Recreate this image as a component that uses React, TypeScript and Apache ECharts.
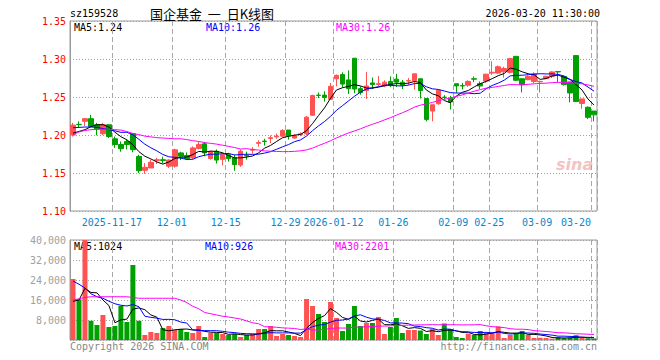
import React, { useEffect, useRef } from "react";
import * as echarts from "echarts";

const dates = [
  "2025-11-06","2025-11-07","2025-11-10","2025-11-11","2025-11-12","2025-11-13","2025-11-14","2025-11-17","2025-11-18","2025-11-19",
  "2025-11-20","2025-11-21","2025-11-24","2025-11-25","2025-11-26","2025-11-27","2025-11-28","2025-12-01","2025-12-02","2025-12-03",
  "2025-12-04","2025-12-05","2025-12-08","2025-12-09","2025-12-10","2025-12-11","2025-12-15","2025-12-16","2025-12-17","2025-12-18",
  "2025-12-19","2025-12-22","2025-12-23","2025-12-24","2025-12-25","2025-12-26","2025-12-29","2025-12-30","2025-12-31","2026-01-05",
  "2026-01-06","2026-01-07","2026-01-08","2026-01-09","2026-01-12","2026-01-13","2026-01-14","2026-01-15","2026-01-16","2026-01-19",
  "2026-01-20","2026-01-21","2026-01-22","2026-01-23","2026-01-26","2026-01-27","2026-01-28","2026-01-29","2026-01-30","2026-02-02",
  "2026-02-03","2026-02-04","2026-02-05","2026-02-06","2026-02-09","2026-02-10","2026-02-11","2026-02-12","2026-02-13","2026-02-24",
  "2026-02-25","2026-02-26","2026-02-27","2026-03-02","2026-03-03","2026-03-04","2026-03-05","2026-03-06","2026-03-09","2026-03-10",
  "2026-03-11","2026-03-12","2026-03-13","2026-03-16","2026-03-17","2026-03-18","2026-03-19","2026-03-20"
];

const opens = [
  1.200,1.2140,1.218,1.2215,1.2135,1.2017,1.2135,1.195,1.1875,1.1915,
  1.2017,1.1718,1.1535,1.1566,1.1665,1.1675,1.159,1.159,1.1764,1.173,
  1.170,1.1823,1.1885,1.169,1.1785,1.168,1.174,1.170,1.1605,1.1735,
  1.180,1.189,1.192,1.1955,1.1975,1.1985,1.2065,1.196,1.2005,1.2015,
  1.226,1.2525,1.2525,1.247,1.274,1.2795,1.2725,1.301,1.261,1.2585,
  1.2685,1.2665,1.2645,1.2705,1.2735,1.2695,1.271,1.2715,1.274,1.248,
  1.2315,1.2412,1.2497,1.2485,1.2675,1.265,1.2655,1.274,1.2675,1.271,
  1.2815,1.2815,1.2832,1.2825,1.3035,1.274,1.2728,1.2705,1.270,1.2742,
  1.2772,1.2835,1.277,1.2698,1.3045,1.2415,1.2365,1.2315
];
const closes = [
  1.213,1.2136,1.2215,1.2113,1.208,1.2135,1.198,1.1875,1.182,1.1875,
  1.1807,1.153,1.1575,1.164,1.1675,1.1665,1.167,1.1805,1.172,1.169,
  1.183,1.1875,1.1765,1.178,1.167,1.174,1.169,1.161,1.1785,1.1725,
  1.181,1.190,1.1915,1.1965,1.1985,1.206,1.199,1.199,1.2015,1.2235,
  1.252,1.252,1.2495,1.264,1.2785,1.267,1.261,1.2605,1.256,1.2645,
  1.2665,1.2675,1.2695,1.265,1.2695,1.2655,1.2715,1.2805,1.2585,1.2205,
  1.2398,1.2588,1.2495,1.2435,1.2645,1.2645,1.2705,1.2735,1.2645,1.280,
  1.2825,1.2898,1.2875,1.3005,1.272,1.266,1.277,1.2805,1.2705,1.2772,
  1.283,1.283,1.2665,1.2553,1.244,1.2475,1.2233,1.2265
];
const lows = [
  1.198,1.2096,1.212,1.211,1.1995,1.200,1.196,1.183,1.178,1.181,
  1.1772,1.150,1.149,1.1566,1.162,1.163,1.1565,1.157,1.167,1.167,
  1.168,1.181,1.172,1.1675,1.1625,1.160,1.165,1.153,1.158,1.1675,
  1.1755,1.1845,1.186,1.1895,1.195,1.1975,1.194,1.195,1.1985,1.200,
  1.225,1.2485,1.244,1.2465,1.264,1.2625,1.254,1.255,1.253,1.2475,
  1.2605,1.2645,1.263,1.263,1.263,1.2605,1.266,1.2595,1.248,1.218,
  1.218,1.2398,1.2465,1.2335,1.2555,1.260,1.2635,1.2695,1.2605,1.2685,
  1.279,1.2805,1.2755,1.281,1.271,1.256,1.272,1.268,1.256,1.2735,
  1.275,1.2698,1.265,1.243,1.2435,1.2345,1.221,1.218
];
const highs = [
  1.216,1.2179,1.2225,1.2266,1.216,1.216,1.2135,1.198,1.1915,1.194,
  1.2025,1.174,1.163,1.1675,1.170,1.1715,1.168,1.182,1.178,1.177,
  1.185,1.1915,1.191,1.1795,1.181,1.176,1.1765,1.174,1.181,1.178,
  1.184,1.193,1.195,1.1995,1.202,1.2075,1.2065,1.201,1.2035,1.225,
  1.253,1.256,1.2575,1.2685,1.2795,1.2825,1.285,1.301,1.264,1.283,
  1.2755,1.2775,1.272,1.277,1.2805,1.2725,1.275,1.2805,1.274,1.248,
  1.240,1.2605,1.2525,1.2515,1.2675,1.2685,1.272,1.277,1.2705,1.2805,
  1.297,1.2915,1.2898,1.301,1.3035,1.274,1.2785,1.2825,1.2715,1.278,
  1.2838,1.2838,1.277,1.2698,1.3045,1.2477,1.2377,1.2315
];
const volumes = [
  24400,16300,40000,7700,6000,10000,5200,5600,13700,7200,
  30000,7700,2000,3200,2800,4800,5600,4000,4400,3200,
  2800,5600,1200,2800,2800,2400,2000,2400,1200,2000,
  2400,4400,4400,5600,1600,2400,2000,1600,1200,16400,
  13600,10400,7200,15200,8800,3600,6400,13600,5600,6800,
  6800,9200,2400,5200,8800,2800,4000,4000,3800,2400,
  4400,2000,6600,4400,1200,800,2570,2000,3600,2800,
  2800,5400,800,2000,2800,3600,2000,800,900,800,
  540,1100,800,1000,1900,900,700,620
];

// moving-average values before enough closes exist in the window
const ma5Lead = [1.2025, 1.2047, 1.207, 1.211];
const ma10Lead = [1.2095, 1.210, 1.2105, 1.2105, 1.210, 1.2085, 1.207, 1.2055, 1.2035];
const ma30Lead = [
  1.2005,1.204,1.206,1.207,1.2075,1.2075,1.2075,1.207,1.2065,1.2045,
  1.202,1.2005,1.1985,1.1975,1.1965,1.196,1.1955,1.195,1.195,1.194,
  1.1925,1.1915,1.190,1.189,1.188,1.1865,1.185,1.1835,1.1815
];
const vma5Lead = [15500, 16000, 20700, 19000];
const vma10Lead = [23600, 22300, 20800, 18500, 17300, 16700, 15500, 14500, 13900];
const vma30Lead = [
  16000,16500,17000,17300,17300,17300,17300,17300,17300,17300,
  17000,16700,16700,16700,16700,16700,16700,16700,16000,15000,
  13500,12500,11000,10500,10000,9500,9200,8800,8400
];

const tickDates = ["2025-11-17","2025-12-01","2025-12-15","2025-12-29","2026-01-12","2026-01-26","2026-02-09","2026-02-25","2026-03-09","2026-03-20"];
const tickTexts = ["2025-11-17","12-01","12-15","12-29","2026-01-12","01-26","02-09","02-25","03-09","03-20"];

const priceAxis = { min: 1.10, max: 1.35, interval: 0.05 };
const volumeAxis = { min: 0, max: 40000, interval: 8000 };

const UP = "#ff5252";
const DOWN = "#00a000";
const MONO = "DejaVu Sans Mono";

function movingAvg(values: number[], n: number, lead: number[]) {
  return values.map((_, i) => {
    if (i < lead.length) return lead[i];
    let s = 0;
    for (let k = i - n + 1; k <= i; k++) s += values[k];
    return s / n;
  });
}

export default function App() {
  const ref = useRef<HTMLDivElement>(null);
  useEffect(() => {
    if (!ref.current) return;
    const chart = echarts.init(ref.current, undefined, { renderer: "svg" });

    const ma5 = movingAvg(closes, 5, ma5Lead);
    const ma10 = movingAvg(closes, 10, ma10Lead);
    const ma30 = movingAvg(closes, 30, ma30Lead);
    const vma5 = movingAvg(volumes, 5, vma5Lead);
    const vma10 = movingAvg(volumes, 10, vma10Lead);
    const vma30 = movingAvg(volumes, 30, vma30Lead);
    const last = closes.length - 1;

    const tickIdx = new Set(tickDates.map((d) => dates.indexOf(d)));
    const candleData = dates.map((_, i) => [opens[i], closes[i], lows[i], highs[i]]);
    const volData = volumes.map((v, i) => ({
      value: v,
      itemStyle: { color: closes[i] >= opens[i] ? UP : DOWN },
    }));

    const splitV = {
      show: true,
      interval: (idx: number) => tickIdx.has(idx),
      lineStyle: { color: "#a8a8a8", type: [5, 3] as any, width: 1 },
    };
    const splitH = {
      show: true,
      lineStyle: { color: "#a0a0a0", type: [1, 2] as any, width: 1 },
    };
    const labelBase = { fontFamily: MONO, fontSize: 10, color: "#0a86cc" };

    const txt = (x: number, y: number, text: string, fill: string, extra: any = {}) => ({
      type: "text",
      x,
      y,
      style: { text, fill, font: `10px "${MONO}"`, verticalAlign: "middle", ...extra },
      silent: true,
    });

    chart.setOption({
      animation: false,
      backgroundColor: "#ffffff",
      grid: [
        { left: 70, top: 21, width: 527, height: 190, show: true, borderColor: "#9a9a9a", borderWidth: 1, backgroundColor: "transparent" },
        { left: 70, top: 240, width: 527, height: 100, show: true, borderColor: "#9a9a9a", borderWidth: 1, backgroundColor: "transparent" },
      ],
      xAxis: [
        {
          type: "category",
          gridIndex: 0,
          data: dates,
          boundaryGap: true,
          axisLine: { show: false },
          axisTick: { show: false },
          splitLine: splitV,
          axisLabel: {
            ...labelBase,
            margin: 6,
            interval: (idx: number) => tickIdx.has(idx),
            formatter: (val: string) => {
              const k = tickDates.indexOf(val);
              if (k < 0) return "";
              return k === tickDates.length - 1 ? `{e|${tickTexts[k]}}` : `{m|${tickTexts[k]}}`;
            },
            rich: {
              m: { ...labelBase, padding: [0, 6, 0, 0] },
              e: { ...labelBase, padding: [0, 36, 0, 0] },
            },
          },
        },
        {
          type: "category",
          gridIndex: 1,
          data: dates,
          boundaryGap: true,
          axisLine: { show: false },
          axisTick: { show: false },
          axisLabel: { show: false },
          splitLine: splitV,
        },
      ],
      yAxis: [
        {
          type: "value",
          gridIndex: 0,
          min: priceAxis.min,
          max: priceAxis.max,
          interval: priceAxis.interval,
          axisLine: { show: true, lineStyle: { color: "#9a9a9a" } },
          axisTick: { show: false },
          splitLine: splitH,
          axisLabel: {
            color: "#ff0000",
            fontFamily: MONO,
            fontSize: 10,
            margin: 4,
            formatter: (v: number) => v.toFixed(2),
          },
        },
        {
          type: "value",
          gridIndex: 1,
          min: volumeAxis.min,
          max: volumeAxis.max,
          interval: volumeAxis.interval,
          axisLine: { show: true, lineStyle: { color: "#9a9a9a" } },
          axisTick: { show: false },
          splitLine: splitH,
          axisLabel: {
            color: "#a0a0a0",
            fontFamily: MONO,
            fontSize: 10,
            margin: 4,
            showMinLabel: false,
          },
        },
      ],
      series: [
        {
          type: "candlestick",
          xAxisIndex: 0,
          yAxisIndex: 0,
          data: candleData,
          barWidth: 5,
          itemStyle: { color: UP, color0: DOWN, borderColor: UP, borderColor0: DOWN, borderWidth: 1 },
          z: 2,
        },
        { type: "line", xAxisIndex: 0, yAxisIndex: 0, data: ma5, symbol: "none", lineStyle: { color: "#000000", width: 1 }, z: 3 },
        { type: "line", xAxisIndex: 0, yAxisIndex: 0, data: ma10, symbol: "none", lineStyle: { color: "#0000ff", width: 1 }, z: 3 },
        { type: "line", xAxisIndex: 0, yAxisIndex: 0, data: ma30, symbol: "none", lineStyle: { color: "#ff00ff", width: 1 }, z: 3 },
        { type: "bar", xAxisIndex: 1, yAxisIndex: 1, data: volData, barWidth: 5, z: 2 },
        { type: "line", xAxisIndex: 1, yAxisIndex: 1, data: vma5, symbol: "none", lineStyle: { color: "#000000", width: 1 }, z: 3 },
        { type: "line", xAxisIndex: 1, yAxisIndex: 1, data: vma10, symbol: "none", lineStyle: { color: "#0000ff", width: 1 }, z: 3 },
        { type: "line", xAxisIndex: 1, yAxisIndex: 1, data: vma30, symbol: "none", lineStyle: { color: "#ff00ff", width: 1 }, z: 3 },
      ],
      graphic: [
        txt(70, 13, "sz159528", "#000000"),
        {
          type: "text",
          x: 150,
          y: 13,
          style: { text: "国企基金  一  日K线图", fill: "#000000", font: '13px "Noto Sans CJK SC"', verticalAlign: "middle" },
          silent: true,
        },
        txt(600, 13, "2026-03-20 11:30:00", "#000000", { align: "right" }),
        txt(74, 27, `MA5:${ma5[last].toFixed(2)}`, "#000000"),
        txt(206, 27, `MA10:${ma10[last].toFixed(2)}`, "#0000ff"),
        txt(336, 27, `MA30:${ma30[last].toFixed(2)}`, "#ff00ff"),
        txt(74, 246, `MA5:${Math.round(vma5[last])}`, "#000000"),
        txt(205, 246, `MA10:${Math.round(vma10[last])}`, "#0000ff"),
        txt(335, 246, `MA30:${Math.round(vma30[last])}`, "#ff00ff"),
        txt(70, 346, "Copyright 2026 SINA.COM", "#888888"),
        txt(597, 346, "http://finance.sina.com.cn", "#888888", { align: "right" }),
        {
          type: "text",
          x: 556,
          y: 164,
          style: { text: "sina", fill: "#f2c4c4", font: 'italic bold 16px "DejaVu Sans"', verticalAlign: "middle" },
          silent: true,
          z: 0,
        },
      ],
    });
    return () => chart.dispose();
  }, []);
  return <div ref={ref} style={{ position: "absolute", left: 0, top: 0, width: 660, height: 360 }} />;
}
